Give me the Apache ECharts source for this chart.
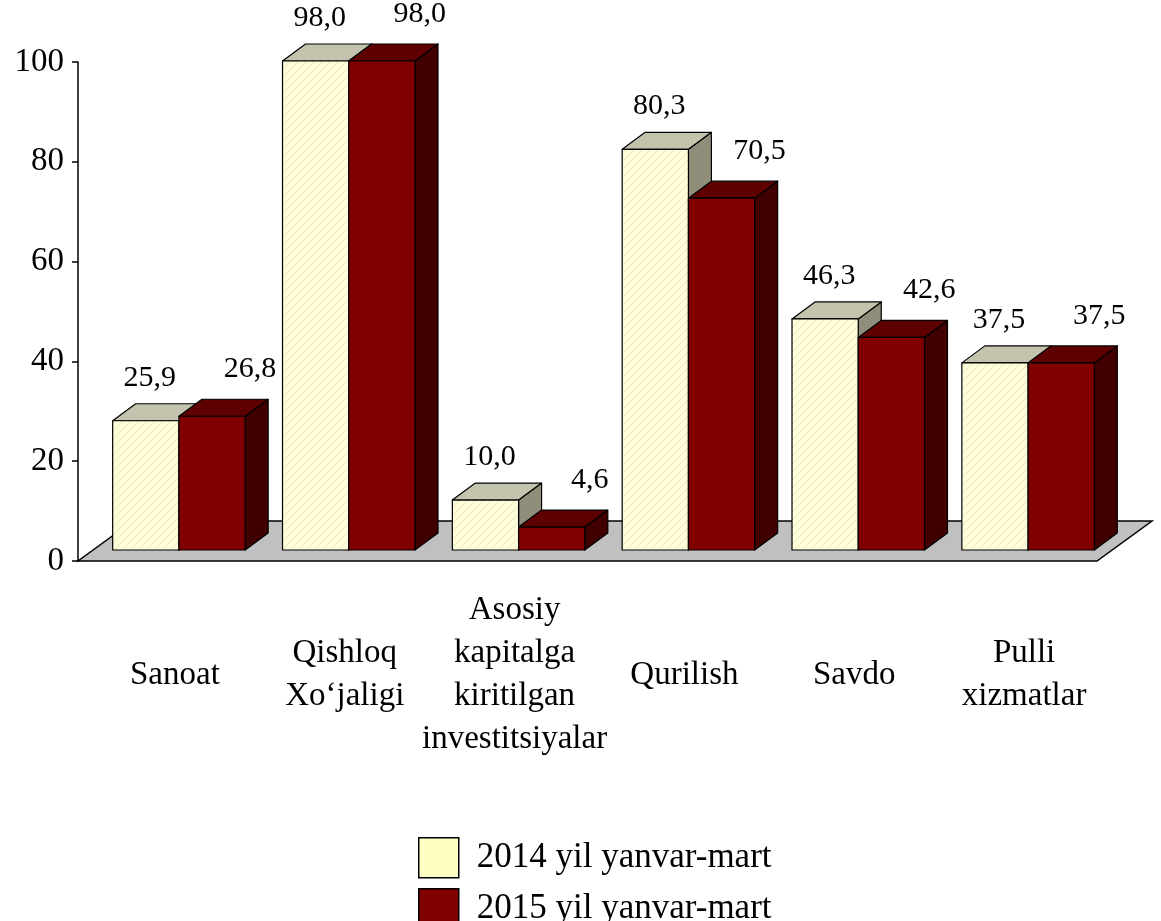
<!DOCTYPE html>
<html><head><meta charset="utf-8">
<script src="https://cdn.jsdelivr.net/npm/echarts@6/dist/echarts.min.js"></script>
<style>html,body{margin:0;padding:0;background:#fff}#c{width:1161px;height:921px}</style>
</head><body><div id="c"></div>
<script>
// ---- data ----
const categories = ['Sanoat', 'Qishloq\nXo‘jaligi', 'Asosiy\nkapitalga\nkiritilgan\ninvestitsiyalar', 'Qurilish', 'Savdo', 'Pulli\nxizmatlar'];
const values2014 = [25.9, 98.0, 10.0, 80.3, 46.3, 37.5];
const values2015 = [26.8, 98.0, 4.6, 70.5, 42.6, 37.5];
const seriesNames = ['2014 yil yanvar-mart', '2015 yil yanvar-mart'];
const yMin = 0, yMax = 100, yStep = 20;

// ---- style ----
const FONT = "'Liberation Serif','Times New Roman',serif";
const SHIFT_X = 16, SHIFT_Y = 11;     // bar front plane offset from floor front edge
const DEPTH_X = 23, DEPTH_Y = 17;     // bar depth
const FLOOR_DX = 55, FLOOR_DY = 40;   // floor depth
const BAR_RATIO = 0.39;

function hatch() {
  const c = document.createElement('canvas');
  c.width = 8; c.height = 8;
  const g = c.getContext('2d');
  g.fillStyle = '#FFFFDE'; g.fillRect(0, 0, 8, 8);
  g.strokeStyle = '#F3EEC2'; g.lineWidth = 1.3;
  g.beginPath();
  g.moveTo(0, 8); g.lineTo(8, 0);
  g.moveTo(-4, 4); g.lineTo(4, -4);
  g.moveTo(4, 12); g.lineTo(12, 4);
  g.stroke();
  return c;
}
const pattern = { image: hatch(), repeat: 'repeat' };

const looks = [
  { front: pattern, top: '#C4C3AD', side: '#8E8E7A', legend: '#FFFFC4', labelDx: 4, labelDy: -43 },
  { front: '#800000', top: '#5E0000', side: '#400000', legend: '#800000', labelDx: 38, labelDy: -47 }
];

const fmt = v => v.toFixed(1).replace('.', ',');

function barRenderer(s) {
  const L = looks[s];
  return function (params, api) {
    const i = api.value(0), v = api.value(1);
    const base = api.coord([i, 0]);
    const top = api.coord([i, v]);
    const bw = api.size([1, 0])[0] * BAR_RATIO;
    const cx = base[0] + SHIFT_X;
    const x0 = s === 0 ? cx - bw : cx;
    const y0 = base[1] - SHIFT_Y, y1 = top[1] - SHIFT_Y;
    const st = { stroke: '#000', lineWidth: 1.2, lineJoin: 'round' };
    return {
      type: 'group',
      children: [
        { type: 'polygon', shape: { points: [[x0 + bw, y1], [x0 + bw + DEPTH_X, y1 - DEPTH_Y], [x0 + bw + DEPTH_X, y0 - DEPTH_Y], [x0 + bw, y0]] }, style: Object.assign({ fill: L.side }, st) },
        { type: 'polygon', shape: { points: [[x0, y1], [x0 + DEPTH_X, y1 - DEPTH_Y], [x0 + bw + DEPTH_X, y1 - DEPTH_Y], [x0 + bw, y1]] }, style: Object.assign({ fill: L.top }, st) },
        { type: 'rect', shape: { x: x0, y: y1, width: bw, height: y0 - y1 }, style: Object.assign({ fill: L.front }, st) },
        { type: 'text', x: x0 + bw / 2 + L.labelDx, y: y1 + L.labelDy, style: { text: fmt(v), font: '30px ' + FONT, fill: '#000', align: 'center', verticalAlign: 'middle' } }
      ]
    };
  };
}

function legendFor(k, top) {
  return {
    orient: 'horizontal', left: 413, top: top,
    itemWidth: 40, itemHeight: 40, icon: 'rect',
    textStyle: { fontFamily: FONT, fontSize: 35, color: '#000', padding: [0, 0, 0, 13] },
    data: [{ name: seriesNames[k], itemStyle: { color: looks[k].legend, borderColor: '#000', borderWidth: 1.5 } }]
  };
}

const chart = echarts.init(document.getElementById('c'), null, { renderer: 'canvas' });
chart.setOption({
  animation: false,
  backgroundColor: '#fff',
  grid: { left: 78, right: 64, top: 62, bottom: 360, containLabel: false },
  legend: [legendFor(0, 832), legendFor(1, 883)],
  xAxis: {
    type: 'category', data: categories, boundaryGap: true,
    axisLine: { show: false }, axisTick: { show: false },
    axisLabel: { interval: 0, margin: 114, verticalAlign: 'middle', fontFamily: FONT, fontSize: 33, lineHeight: 43, color: '#000', padding: [0, 0, 0, 24] }
  },
  yAxis: {
    type: 'value', min: yMin, max: yMax, interval: yStep,
    axisLine: { show: true, lineStyle: { color: '#000', width: 1.5 } },
    axisTick: { show: true, length: 6, lineStyle: { color: '#000', width: 1.5 } },
    axisLabel: { fontFamily: FONT, fontSize: 33, color: '#000', margin: 14 },
    splitLine: { show: false }
  },
  series: [
    {
      type: 'custom', name: 'floor', z: 1, silent: true,
      data: [[0, 0]], encode: { x: 0, y: 1 },
      renderItem: function (params, api) {
        const cs = params.coordSys;
        const y = api.coord([0, 0])[1];
        const xl = cs.x, xr = cs.x + cs.width;
        return { type: 'polygon', shape: { points: [[xl, y], [xr, y], [xr + FLOOR_DX, y - FLOOR_DY], [xl + FLOOR_DX, y - FLOOR_DY]] }, style: { fill: '#C0C0C0', stroke: '#000', lineWidth: 1.5 } };
      }
    },
    {
      type: 'custom', name: seriesNames[0], z: 2,
      itemStyle: { color: looks[0].legend, borderColor: '#000' },
      data: values2014.map((v, i) => [i, v]), encode: { x: 0, y: 1 },
      renderItem: barRenderer(0)
    },
    {
      type: 'custom', name: seriesNames[1], z: 3,
      itemStyle: { color: looks[1].legend, borderColor: '#000' },
      data: values2015.map((v, i) => [i, v]), encode: { x: 0, y: 1 },
      renderItem: barRenderer(1)
    }
  ]
});
</script>
</body></html>
